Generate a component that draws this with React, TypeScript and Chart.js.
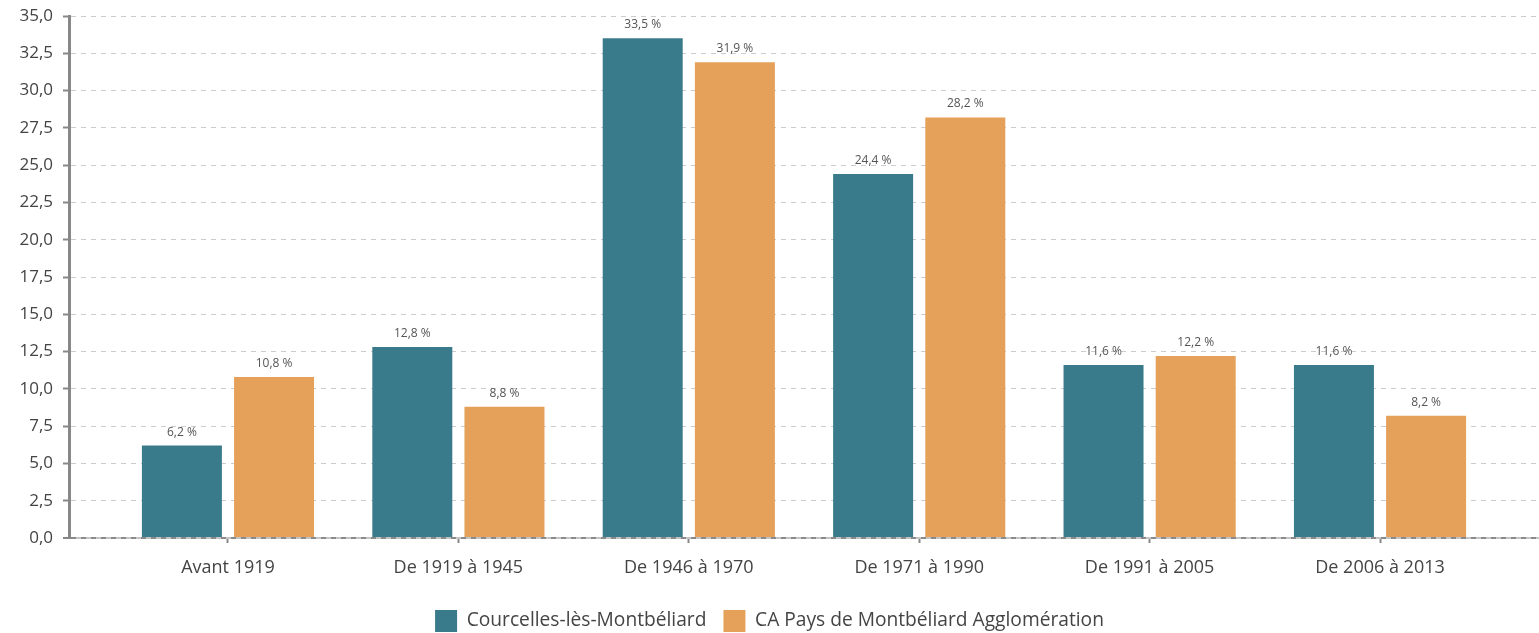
import React, { useEffect, useRef } from "react";
import { Chart, registerables } from "chart.js";

Chart.register(...registerables);

const categories = [
  "Avant 1919",
  "De 1919 à 1945",
  "De 1946 à 1970",
  "De 1971 à 1990",
  "De 1991 à 2005",
  "De 2006 à 2013",
];
const seriesNames = ["Courcelles-lès-Montbéliard", "CA Pays de Montbéliard Agglomération"];
const courcelles = [6.2, 12.8, 33.5, 24.4, 11.6, 11.6];
const caPays = [10.8, 8.8, 31.9, 28.2, 12.2, 8.2];
const yTicks = [0, 2.5, 5, 7.5, 10, 12.5, 15, 17.5, 20, 22.5, 25, 27.5, 30, 32.5, 35];

const TEAL = "#3A7B8B";
const ORANGE = "#E5A05A";
const FONT = "'Open Sans', sans-serif";

const fr = (v: number) => v.toFixed(1).replace(".", ",");

const valueLabels = {
  id: "valueLabels",
  afterDatasetsDraw(chart: any) {
    const ctx = chart.ctx;
    ctx.save();
    ctx.font = `12px ${FONT}`;
    ctx.fillStyle = "#555";
    ctx.textAlign = "center";
    ctx.textBaseline = "alphabetic";
    chart.data.datasets.forEach((ds: any, di: number) => {
      const meta = chart.getDatasetMeta(di);
      meta.data.forEach((el: any, i: number) => {
        const v = ds.data[i].y;
        ctx.fillText(fr(v) + " %", el.x, el.y - 10);
      });
    });
    ctx.restore();
  },
};

export default function App() {
  const ref = useRef<HTMLCanvasElement | null>(null);
  useEffect(() => {
    document.body.style.margin = "0";
    const chart = new Chart(ref.current as HTMLCanvasElement, {
      type: "bar",
      data: {
        datasets: [
          {
            label: seriesNames[0],
            data: courcelles.map((y, x) => ({ x, y })),
            backgroundColor: TEAL,
            borderWidth: 0,
          },
          {
            label: seriesNames[1],
            data: caPays.map((y, x) => ({ x, y })),
            backgroundColor: ORANGE,
            borderWidth: 0,
          },
        ],
      },
      options: {
        responsive: false,
        animation: false,
        categoryPercentage: 0.8,
        barPercentage: 0.868,
        layout: { padding: { top: 16, right: 0, left: 0, bottom: -9 } },
        plugins: {
          tooltip: { enabled: false },
          legend: {
            position: "bottom",
            labels: {
              boxWidth: 22,
              boxHeight: 22,
              padding: 17,
              color: "#444",
              font: { family: FONT, size: 19.2 },
            },
          },
        },
        scales: {
          x: {
            type: "linear",
            min: -0.69,
            max: 5.69,
            offset: false,
            afterFit: (s: any) => {
              s.height = 55;
              s.paddingLeft = 0;
              s.paddingRight = 0;
            },
            grid: {
              offset: false,
              drawOnChartArea: false,
              tickLength: 5,
              tickColor: "#888",
              tickWidth: 2,
            },
            afterBuildTicks: (s: any) => {
              s.ticks = categories.map((_, i) => ({ value: i }));
            },
            border: { display: true, color: "#c4c4c4", width: 2, z: -1 },
            ticks: {
              padding: 14,
              color: "#444",
              font: { family: FONT, size: 18 },
              callback: (v: any) => categories[Math.round(Number(v))] ?? "",
            },
          },
          y: {
            min: 0,
            max: 35,
            afterFit: (s: any) => {
              s.width = 69;
              s.paddingTop = 0;
              s.paddingBottom = 0;
            },
            afterBuildTicks: (s: any) => {
              s.ticks = yTicks.map((value) => ({ value }));
            },
            grid: {
              color: (c: any) => (c.tick && c.tick.value === 0 ? "#8a8a8a" : "#cccccc"),
              lineWidth: (c: any) => (c.tick && c.tick.value === 0 ? 2 : 1),
              tickColor: "#888",
              tickLength: 6,
              tickWidth: 2,
            },
            border: { display: true, color: "#888", width: 3, dash: [5, 5] },
            ticks: {
              padding: 10,
              color: "#444",
              font: { family: FONT, size: 17 },
              callback: (v: any) => fr(Number(v)),
            },
          },
        },
      },
      plugins: [valueLabels],
    } as any);
    return () => chart.destroy();
  }, []);
  return (
    <div style={{ position: "absolute", left: 0, top: 0, width: 1539, height: 633 }}>
      <canvas ref={ref} width={1539} height={633} />
    </div>
  );
}
